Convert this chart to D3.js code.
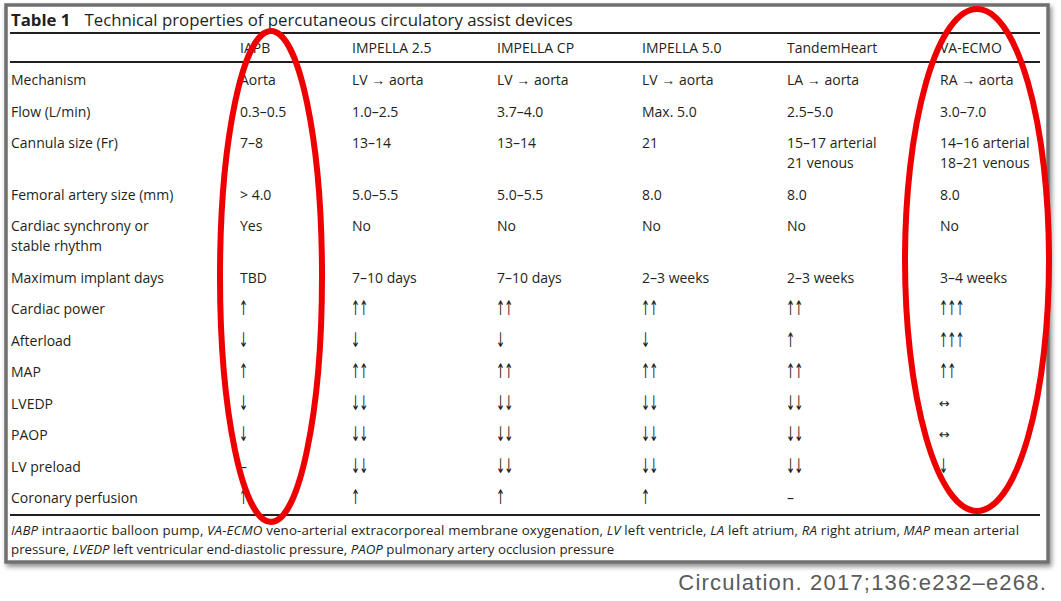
<!DOCTYPE html>
<html><head><meta charset="utf-8">
<script src="https://cdn.jsdelivr.net/npm/d3@7"></script>
<style>body{margin:0;background:#fff}svg{display:block}</style>
</head><body><svg id="c" width="1061" height="601"></svg>
<script>
// ---------- data ----------
const tableNumber = "Table 1";
const tableTitle = "Technical properties of percutaneous circulatory assist devices";
const devices = ["IAPB", "IMPELLA 2.5", "IMPELLA CP", "IMPELLA 5.0", "TandemHeart", "VA-ECMO"];
const rowLabels = ["Mechanism", "Flow (L/min)", "Cannula size (Fr)", "Femoral artery size (mm)",
  "Cardiac synchrony or\nstable rhythm", "Maximum implant days", "Cardiac power", "Afterload",
  "MAP", "LVEDP", "PAOP", "LV preload", "Coronary perfusion"];
const iapb = ["Aorta", "0.3–0.5", "7–8", "> 4.0", "Yes", "TBD", "↑", "↓", "↑", "↓", "↓", "–", "↑"];
const impella25 = ["LV → aorta", "1.0–2.5", "13–14", "5.0–5.5", "No", "7–10 days", "↑↑", "↓", "↑↑", "↓↓", "↓↓", "↓↓", "↑"];
const impellaCP = ["LV → aorta", "3.7–4.0", "13–14", "5.0–5.5", "No", "7–10 days", "↑↑", "↓", "↑↑", "↓↓", "↓↓", "↓↓", "↑"];
const impella50 = ["LV → aorta", "Max. 5.0", "21", "8.0", "No", "2–3 weeks", "↑↑", "↓", "↑↑", "↓↓", "↓↓", "↓↓", "↑"];
const tandemHeart = ["LA → aorta", "2.5–5.0", "15–17 arterial\n21 venous", "8.0", "No", "2–3 weeks", "↑↑", "↑", "↑↑", "↓↓", "↓↓", "↓↓", "–"];
const vaEcmo = ["RA → aorta", "3.0–7.0", "14–16 arterial\n18–21 venous", "8.0", "No", "3–4 weeks", "↑↑↑", "↑↑↑", "↑↑", "↔", "↔", "↓", ""];
const footAbbr = ["IABP", "VA-ECMO", "LV", "LA", "RA", "MAP", "LVEDP", "PAOP"];
const footDef = ["intraaortic balloon pump", "veno-arterial extracorporeal membrane oxygenation",
  "left ventricle", "left atrium", "right atrium", "mean arterial pressure",
  "left ventricular end-diastolic pressure", "pulmonary artery occlusion pressure"];
const citation = "Circulation. 2017;136:e232–e268.";

const columns = [iapb, impella25, impellaCP, impella50, tandemHeart, vaEcmo];

// ---------- layout ----------
const svg = d3.select("#c");
const FONT = "'Open Sans', sans-serif";
const ARROWFONT = "'DejaVu Sans', sans-serif";
const fs = 14;
const ink = "#231f20";

const defs = svg.append("defs");
const f = defs.append("filter").attr("id", "sh").attr("x", "-5%").attr("y", "-5%").attr("width", "110%").attr("height", "110%");
f.append("feDropShadow").attr("dx", 2).attr("dy", 3).attr("stdDeviation", 2.5).attr("flood-color", "#000").attr("flood-opacity", 0.45);

const box = {x0: 6, y0: 5, x1: 1048, y1: 562};
const lineX0 = 10, lineX1 = 1040;

svg.append("rect").attr("x", box.x0).attr("y", box.y0)
  .attr("width", box.x1 - box.x0).attr("height", box.y1 - box.y0)
  .attr("fill", "#fff").attr("stroke", "#707070").attr("stroke-width", 3.5)
  .attr("filter", "url(#sh)");

// column scale
const x = d3.scaleOrdinal().domain(["label", ...devices]).range([11, 240, 352, 497, 642, 787, 940]);

// row scale: uniform pitch plus extra for wrapped lines
const nLines = rowLabels.map((l, i) => Math.max(l.split("\n").length, ...columns.map(c => c[i].split("\n").length)));
const extra = [];
nLines.reduce((acc, n, i) => { extra[i] = acc; return acc + (n - 1); }, 0);
const yRow = d3.scaleLinear().domain([0, rowLabels.length - 1]).range([85, 85 + 12 * 31.5]);
const lineH = 20;
const y = i => yRow(i) + extra[i] * lineH;

// title
const t = svg.append("text").attr("x", 11).attr("y", 26).attr("font-family", FONT).attr("fill", ink);
t.append("tspan").attr("font-weight", "bold").attr("font-size", 16.8).text(tableNumber);
t.append("tspan").attr("dx", 14).attr("font-size", 16.8).text(tableTitle);

// rules
const rules = [33, 62, 515];
svg.selectAll("line.rule").data(rules).join("line")
  .attr("x1", lineX0).attr("x2", lineX1).attr("y1", d => d).attr("y2", d => d)
  .attr("stroke", ink).attr("stroke-width", 1.8);

// header
svg.selectAll("text.hdr").data(devices).join("text")
  .attr("x", d => x(d)).attr("y", 53).attr("font-family", FONT).attr("font-size", fs).attr("fill", ink)
  .text(d => d);

function multi(sel, getText) {
  sel.each(function (d, i) {
    const parts = getText(d, i).split("\n");
    d3.select(this).selectAll("tspan").data(parts).join("tspan")
      .attr("x", d3.select(this).attr("x")).attr("dy", (p, k) => k === 0 ? 0 : lineH).text(p => p);
  });
}
const isArrow = s => /^[↑↓↔]+$/.test(s);
const isVertical = s => /^[↑↓]+$/.test(s);

// row labels
svg.selectAll("text.lbl").data(rowLabels).join("text")
  .attr("x", x("label")).attr("y", (d, i) => y(i))
  .attr("font-family", FONT).attr("font-size", fs).attr("fill", ink)
  .call(multi, d => d);

// cells
devices.forEach((dev, j) => {
  const g = svg.append("g");
  const data = columns[j].map((v, i) => ({v, i}));
  g.selectAll("text.txt").data(data.filter(d => !isArrow(d.v))).join("text")
    .attr("x", x(dev)).attr("y", d => y(d.i))
    .attr("font-family", FONT).attr("font-size", fs).attr("fill", ink)
    .call(multi, d => d.v);
  g.selectAll("text.arr").data(data.filter(d => isArrow(d.v))).join("text")
    .attr("transform", d => isVertical(d.v)
      ? `translate(${x(dev) - 1},${y(d.i) + 1}) scale(0.85,1.55)`
      : `translate(${x(dev) - 1},${y(d.i) - 1})`)
    .attr("font-family", ARROWFONT).attr("font-size", 13).attr("letter-spacing", -1.2)
    .attr("fill", ink).text(d => d.v);
});

// footnote
const fnY = [535, 554];
const fs2 = 13.3;
const ft1 = svg.append("text").attr("x", 11).attr("y", fnY[0]).attr("font-family", FONT).attr("font-size", fs2).attr("fill", ink);
const ft2 = svg.append("text").attr("x", 11).attr("y", fnY[1]).attr("font-family", FONT).attr("font-size", fs2).attr("fill", ink);
for (let k = 0; k < footAbbr.length; k++) {
  const sep = k < footAbbr.length - 1 ? ", " : "";
  if (k < 5) {
    ft1.append("tspan").attr("font-style", "italic").text(footAbbr[k]);
    ft1.append("tspan").text(" " + footDef[k] + sep);
  } else if (k === 5) {
    const w = footDef[k].split(" ");
    ft1.append("tspan").attr("font-style", "italic").text(footAbbr[k]);
    ft1.append("tspan").text(" " + w.slice(0, 2).join(" "));
    ft2.append("tspan").text(w.slice(2).join(" ") + sep);
  } else {
    ft2.append("tspan").attr("font-style", "italic").text(footAbbr[k]);
    ft2.append("tspan").text(" " + footDef[k] + sep);
  }
}
ft1.attr("textLength", 1008).attr("lengthAdjust", "spacing");

// citation
svg.append("text").attr("x", 1047).attr("y", 590).attr("text-anchor", "end")
  .attr("font-family", "'Liberation Sans', sans-serif").attr("font-size", 22)
  .attr("letter-spacing", 1.2)
  .attr("fill", "#5a5a5a").text(citation);

// highlight ellipses
const ell = [
  {dev: "IAPB", dx: 31, rx: 51, top: 31, bottom: 522},
  {dev: "VA-ECMO", dx: 37, rx: 72, top: 9, bottom: 511}
];
svg.selectAll("ellipse").data(ell).join("ellipse")
  .attr("cx", d => x(d.dev) + d.dx).attr("cy", d => (d.top + d.bottom) / 2)
  .attr("rx", d => d.rx).attr("ry", d => (d.bottom - d.top) / 2)
  .attr("fill", "none").attr("stroke", "#ee0000").attr("stroke-width", 6);
</script></body></html>
